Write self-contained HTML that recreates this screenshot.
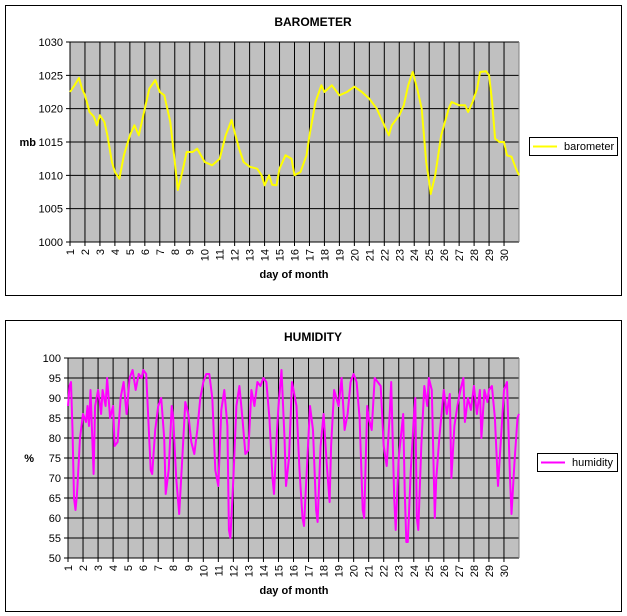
<!DOCTYPE html>
<html><head><meta charset="utf-8"><style>
body{margin:0;background:#fff;width:627px;height:616px;overflow:hidden}
svg{display:block;font-family:"Liberation Sans",Arial,sans-serif}
</style></head><body>
<svg id="s" width="627" height="616" xmlns="http://www.w3.org/2000/svg"></svg>
<script>
var s=document.getElementById('s'),h='';
function chart(fy,fh,px,py,pw,ph,title,ylab,ymin,ymax,step,data,color,leg,lx,ly,lw){
 h+='<rect x="5.5" y="'+(fy+.5)+'" width="616" height="'+fh+'" fill="#fff" stroke="#000"/>';
 h+='<text x="313" y="'+(fy+21)+'" font-size="12" font-weight="bold" text-anchor="middle">'+title+'</text>';
 h+='<rect x="'+px+'" y="'+py+'" width="'+pw+'" height="'+ph+'" fill="#c0c0c0"/>';
 var n=(ymax-ymin)/step;
 for(var i=0;i<=n;i++){var y=py+ph-i*ph/n;
  h+='<line x1="'+(px-4)+'" x2="'+(px+pw)+'" y1="'+y+'" y2="'+y+'" stroke="#000"/>';
  h+='<text x="'+(px-7)+'" y="'+(y+4)+'" font-size="11" text-anchor="end">'+(ymin+i*step)+'</text>';}
 var dx=pw/30;
 for(var d=0;d<=30;d++){var x=px+d*dx;
  h+='<line x1="'+x+'" x2="'+x+'" y1="'+py+'" y2="'+(py+ph+(d<30?4:0))+'" stroke="#000"/>';
  if(d<30)h+='<text transform="translate('+(x+4)+','+(py+ph+7)+') rotate(-90)" font-size="11" text-anchor="end">'+(d+1)+'</text>';}
 h+='<line x1="'+(px+pw)+'" x2="'+(px+pw)+'" y1="'+py+'" y2="'+(py+ph)+'" stroke="#808080"/>';
 h+='<line x1="'+px+'" x2="'+px+'" y1="'+py+'" y2="'+(py+ph)+'" stroke="#000"/>';
 h+='<text x="294" y="'+(py+ph+36)+'" font-size="11" font-weight="bold" text-anchor="middle">day of month</text>';
 h+='<text x="'+(px-34)+'" y="'+(py+ph/2+4)+'" font-size="11" font-weight="bold" text-anchor="end">'+ylab+'</text>';
 var pts=[];for(var i=0;i<data.length;i+=2){pts.push((px+(data[i]-1)*dx).toFixed(1)+','+(py+ph-(data[i+1]-ymin)*ph/(ymax-ymin)).toFixed(1));}
 h+='<polyline points="'+pts.join(' ')+'" fill="none" stroke="'+color+'" stroke-width="2" stroke-linejoin="round"/>';
 h+='<rect x="'+(lx+.5)+'" y="'+(ly+.5)+'" width="'+lw+'" height="18" fill="#fff" stroke="#000"/>';
 h+='<line x1="'+(lx+4)+'" x2="'+(lx+28)+'" y1="'+(ly+9.5)+'" y2="'+(ly+9.5)+'" stroke="'+color+'" stroke-width="2"/>';
 h+='<text x="'+(lx+35)+'" y="'+(ly+13)+'" font-size="11">'+leg+'</text>';
}
var b=[1,1022.5,1.3,1023.5,1.6,1024.6,1.8,1023,2,1022,2.3,1019.5,2.6,1018.8,2.8,1017.5,3,1019,3.3,1018,3.5,1016,3.8,1012,4,1010.5,4.3,1009.5,4.6,1013,5,1016,5.3,1017.5,5.6,1016,6,1020,6.3,1023,6.7,1024.3,7,1022.5,7.3,1022,7.7,1018,8,1012,8.2,1007.8,8.5,1010.5,8.8,1013.5,9.2,1013.5,9.5,1014,10,1012,10.5,1011.5,11,1012.5,11.4,1016,11.8,1018.3,12,1016.5,12.3,1014,12.6,1012,13,1011.3,13.5,1011,13.8,1010,14,1008.5,14.3,1010,14.5,1008.6,14.8,1008.5,15,1011,15.4,1013,15.8,1012.5,16,1010,16.4,1010.5,16.8,1013,17,1016,17.4,1021,17.8,1023.5,18,1022.5,18.5,1023.5,19,1022,19.5,1022.5,20,1023.3,20.5,1022.5,21,1021.5,21.5,1020,22,1017.5,22.3,1016,22.5,1017.5,23,1019,23.3,1020.5,23.6,1023.5,23.9,1025.5,24.2,1023,24.5,1020,24.8,1012,25,1009,25.1,1007.2,25.4,1010,25.8,1016,26.3,1020,26.5,1021,27,1020.5,27.4,1020.5,27.6,1019.5,27.9,1021,28.2,1023,28.4,1025.5,28.8,1025.6,29,1025,29.2,1021,29.4,1015.5,29.7,1015,30,1015,30.2,1013,30.5,1012.8,30.8,1011,31,1010];
var m=[1,88,1.1,93,1.2,94,1.3,82,1.4,65,1.5,62,1.6,66,1.8,80,2,86,2.2,84,2.3,88,2.4,83,2.5,92,2.7,71,2.8,88,3,92,3.2,86,3.3,92,3.5,88,3.6,95,3.8,85,4,88,4.1,78,4.3,79,4.5,90,4.7,94,4.9,86,5.1,95,5.3,97,5.5,92,5.7,96,5.9,95,6,97,6.2,96,6.3,88,6.5,72,6.6,71,6.8,82,7,88,7.2,90,7.4,80,7.5,66,7.7,72,7.9,88,8,85,8.2,70,8.4,61,8.6,75,8.8,89,9,86,9.2,79,9.4,76,9.6,82,9.8,90,10,94,10.2,96,10.4,96,10.6,90,10.8,72,11,68,11.2,87,11.4,92,11.6,83,11.7,57,11.8,55,12,70,12.2,88,12.4,93,12.6,85,12.8,76,13,77,13.2,92,13.4,88,13.6,94,13.8,93,14,95,14.2,94,14.4,85,14.6,70,14.7,66,14.9,82,15,88,15.2,97,15.4,80,15.5,68,15.7,75,15.9,94,16,92,16.2,88,16.4,72,16.6,60,16.7,58,16.9,73,17.1,88,17.3,82,17.5,62,17.6,59,17.8,78,18,86,18.2,74,18.4,64,18.5,78,18.7,92,19,88,19.2,95,19.4,82,19.6,86,19.8,94,20,96,20.2,94,20.4,85,20.6,62,20.7,60,20.9,88,21,85,21.2,82,21.4,95,21.6,94,21.8,93,22,78,22.2,73,22.4,86,22.5,94,22.7,65,22.8,57,23,75,23.3,86,23.4,67,23.5,54,23.6,54,23.8,72,24,85,24.1,90,24.2,60,24.3,57,24.5,78,24.7,93,24.9,88,25,95,25.2,92,25.4,60,25.5,70,25.7,80,26,92,26.2,86,26.4,91,26.5,70,26.7,83,26.9,88,27.1,92,27.3,95,27.4,84,27.6,90,27.8,87,28,93,28.2,86,28.4,92,28.5,80,28.7,92,28.9,89,29,92,29.2,93,29.4,85,29.6,68,29.8,80,30,92,30.2,94,30.4,70,30.5,61,30.7,74,30.9,85,31,86];
chart(5,290,70,42,449,200,'BAROMETER','mb',1000,1030,5,b,'#ffff00','barometer',529,137,88);
chart(320,291,68,358,451,200,'HUMIDITY','%',50,100,5,m,'#ff00ff','humidity',537,453,80);
s.innerHTML=h;
</script>
</body></html>
